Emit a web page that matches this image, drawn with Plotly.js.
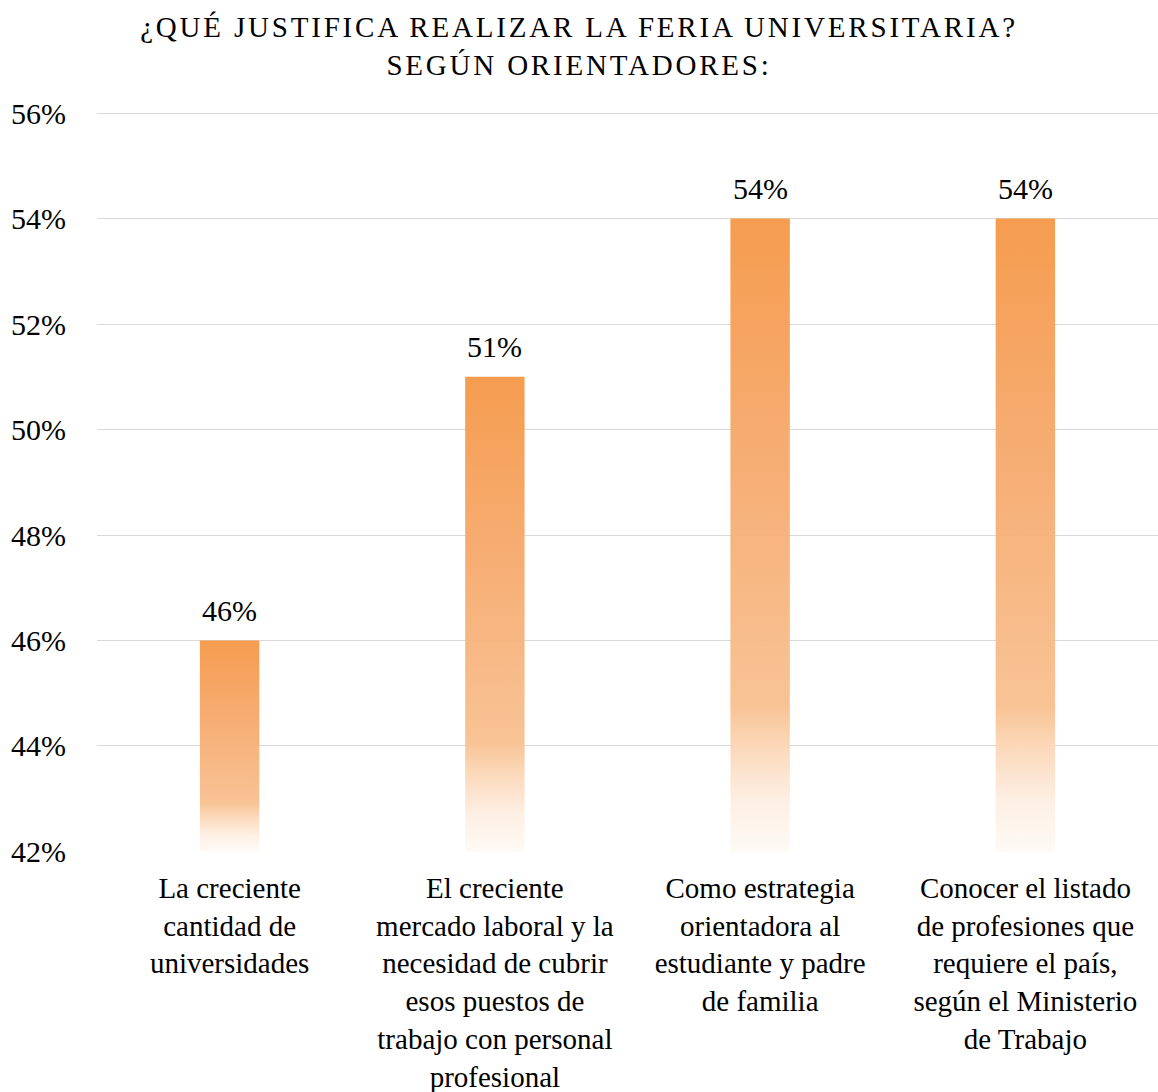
<!DOCTYPE html>
<html>
<head>
<meta charset="utf-8">
<script src="https://cdn.plot.ly/plotly-3.0.1.min.js"></script>
<style>
  html, body { margin: 0; padding: 0; background: #fff; }
  #chart { width: 1158px; height: 1092px; }
  /* el título original lleva espaciado entre letras */
  .gtitle { letter-spacing: 2.8px; }
</style>
</head>
<body>
<div id="chart"></div>
<script>
// datos
const categories = [
  'La creciente<br>cantidad de<br>universidades',
  'El creciente<br>mercado laboral y la<br>necesidad de cubrir<br>esos puestos de<br>trabajo con personal<br>profesional',
  'Como estrategia<br>orientadora al<br>estudiante y padre<br>de familia',
  'Conocer el listado<br>de profesiones que<br>requiere el país,<br>según el Ministerio<br>de Trabajo'
];
const values = [46, 51, 54, 54];
const yTicks = [42, 44, 46, 48, 50, 52, 54, 56];

const axisMin = 42;
const barHalf = 0.112; // media anchura de la barra (unidades de categoría)
const serif = 'Liberation Serif, Times New Roman, serif';

// degradado naranja -> blanco de abajo hacia arriba
const barGradient = [
  [0, 'rgba(255,250,245,0.95)'],
  [0.08, 'rgba(253,238,226,0.95)'],
  [0.17, 'rgba(251,213,179,0.95)'],
  [0.23, 'rgba(248,192,143,0.95)'],
  [0.35, 'rgba(247,185,133,0.95)'],
  [0.6, 'rgba(246,170,110,0.95)'],
  [1, 'rgba(245,153,74,0.97)']
];

const traces = [];

// cada barra es un polígono con relleno degradado
values.forEach((v, i) => {
  traces.push({
    x: [i - barHalf, i - barHalf, i + barHalf, i + barHalf, i - barHalf],
    y: [axisMin, v, v, axisMin, axisMin],
    type: 'scatter',
    mode: 'lines',
    fill: 'toself',
    fillgradient: { type: 'vertical', colorscale: barGradient },
    line: { width: 0, color: 'rgba(0,0,0,0)' },
    hoverinfo: 'skip'
  });
});

// etiquetas de datos encima de cada barra
const labels = values.map((v, i) => ({
  x: i,
  y: v,
  xref: 'x',
  yref: 'y',
  text: v + '%',
  showarrow: false,
  xanchor: 'center',
  yanchor: 'bottom',
  yshift: 12,
  font: { family: serif, size: 30, color: '#000' }
}));

const layout = {
  width: 1158,
  height: 1092,
  margin: { l: 97, r: 0, t: 112, b: 240 },
  paper_bgcolor: '#fff',
  plot_bgcolor: '#fff',
  showlegend: false,
  hovermode: false,
  font: { family: serif, color: '#000' },
  title: {
    text: '¿QUÉ JUSTIFICA REALIZAR LA FERIA UNIVERSITARIA?<br>SEGÚN ORIENTADORES:',
    font: { family: serif, size: 29, color: '#000' },
    xref: 'container',
    x: 0.5,
    xanchor: 'center',
    yref: 'container',
    y: 0.966,
    yanchor: 'top'
  },
  annotations: labels,
  xaxis: {
    range: [-0.5, 3.5],
    tickvals: [0, 1, 2, 3],
    ticktext: categories,
    tickangle: 0,
    showgrid: false,
    zeroline: false,
    showline: false,
    ticks: '',
    ticklabelstandoff: 16,
    tickfont: { family: serif, size: 29, color: '#000' },
    fixedrange: true
  },
  yaxis: {
    range: [41.99, 56.02],
    tickvals: yTicks,
    ticktext: yTicks.map(t => t + '%'),
    showgrid: true,
    gridcolor: '#d9d9d9',
    gridwidth: 1,
    zeroline: false,
    showline: false,
    ticks: '',
    ticklabelstandoff: 30,
    tickfont: { family: serif, size: 30, color: '#000' },
    fixedrange: true
  }
};

Plotly.newPlot('chart', traces, layout, { displayModeBar: false, staticPlot: true });
</script>
</body>
</html>
